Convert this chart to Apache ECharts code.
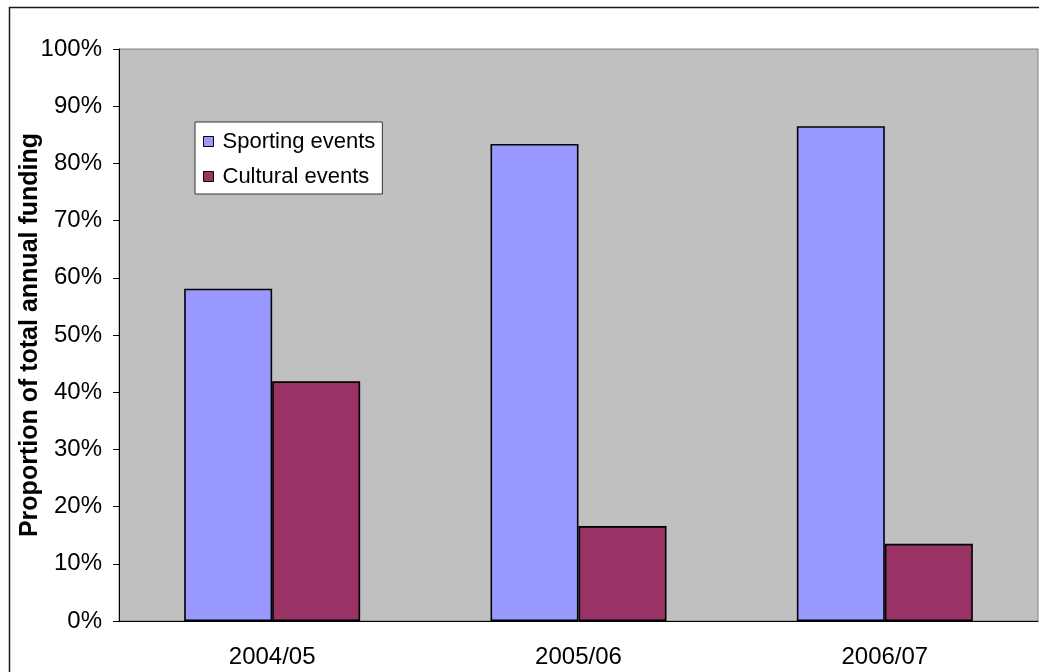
<!DOCTYPE html>
<html>
<head>
<meta charset="utf-8">
<script src="https://cdn.jsdelivr.net/npm/echarts@6/dist/echarts.min.js"></script>
<style>
  html, body { margin: 0; padding: 0; background: #fff; }
  #chart { width: 1039px; height: 672px; }
</style>
</head>
<body>
<div id="chart"></div>
<script>
// Funding split by year
const categories = ['2004/05', '2005/06', '2006/07'];
const sportingEvents = [58.1, 83.4, 86.5];
const culturalEvents = [41.9, 16.6, 13.5];
const seriesNames = ['Sporting events', 'Cultural events'];
const axisTitle = 'Proportion of total annual funding';

const FONT = '"Liberation Sans", Arial, sans-serif';

const chart = echarts.init(document.getElementById('chart'));
chart.setOption({
  animation: false,
  backgroundColor: '#fff',
  textStyle: { fontFamily: FONT },
  graphic: [{
    type: 'rect',
    shape: { x: 9.5, y: 7.5, width: 1200, height: 800 },
    style: { fill: 'none', stroke: '#1a1a1a', lineWidth: 1.5 },
    silent: true,
    z: -1
  }],
  grid: {
    left: 119, right: 1, top: 49, bottom: 51,
    show: true,
    backgroundColor: '#C0C0C0',
    borderColor: '#808080',
    borderWidth: 1
  },
  legend: {
    orient: 'vertical',
    left: 195, top: 122,
    padding: [8, 7, 6, 8],
    itemGap: 12,
    itemWidth: 10, itemHeight: 10,
    backgroundColor: '#fff',
    borderColor: '#333',
    borderWidth: 1,
    icon: 'rect',
    itemStyle: { borderColor: '#000', borderWidth: 1 },
    textStyle: { fontFamily: FONT, fontSize: 22, lineHeight: 23, color: '#000', padding: [0, 0, 0, 4] },
    data: seriesNames
  },
  xAxis: {
    type: 'category',
    data: categories,
    axisLine: { lineStyle: { color: '#000', width: 1 } },
    axisTick: { length: 6, lineStyle: { color: '#808080' } },
    axisLabel: { color: '#000', fontSize: 24, margin: 24, fontFamily: FONT }
  },
  yAxis: {
    type: 'value',
    min: 0, max: 100, interval: 10,
    name: axisTitle,
    nameLocation: 'middle',
    nameRotate: 90,
    nameGap: 76,
    nameMoveOverlap: false,
    nameTextStyle: { fontFamily: FONT, fontSize: 25, fontWeight: 'bold', color: '#000' },
    axisLine: { show: true, lineStyle: { color: '#000', width: 1 } },
    axisTick: { show: true, length: 6, lineStyle: { color: '#000' } },
    splitLine: { show: false },
    axisLabel: { formatter: '{value}%', color: '#000', fontSize: 24, margin: 17, fontFamily: FONT }
  },
  series: [
    {
      name: seriesNames[0],
      type: 'bar',
      data: sportingEvents,
      barWidth: 88,
      barGap: '0%',
      itemStyle: { color: '#9999FF', borderColor: '#000', borderWidth: 1.6 }
    },
    {
      name: seriesNames[1],
      type: 'bar',
      data: culturalEvents,
      barWidth: 88,
      barGap: '0%',
      itemStyle: { color: '#993366', borderColor: '#000', borderWidth: 1.6 }
    }
  ]
});
</script>
</body>
</html>
